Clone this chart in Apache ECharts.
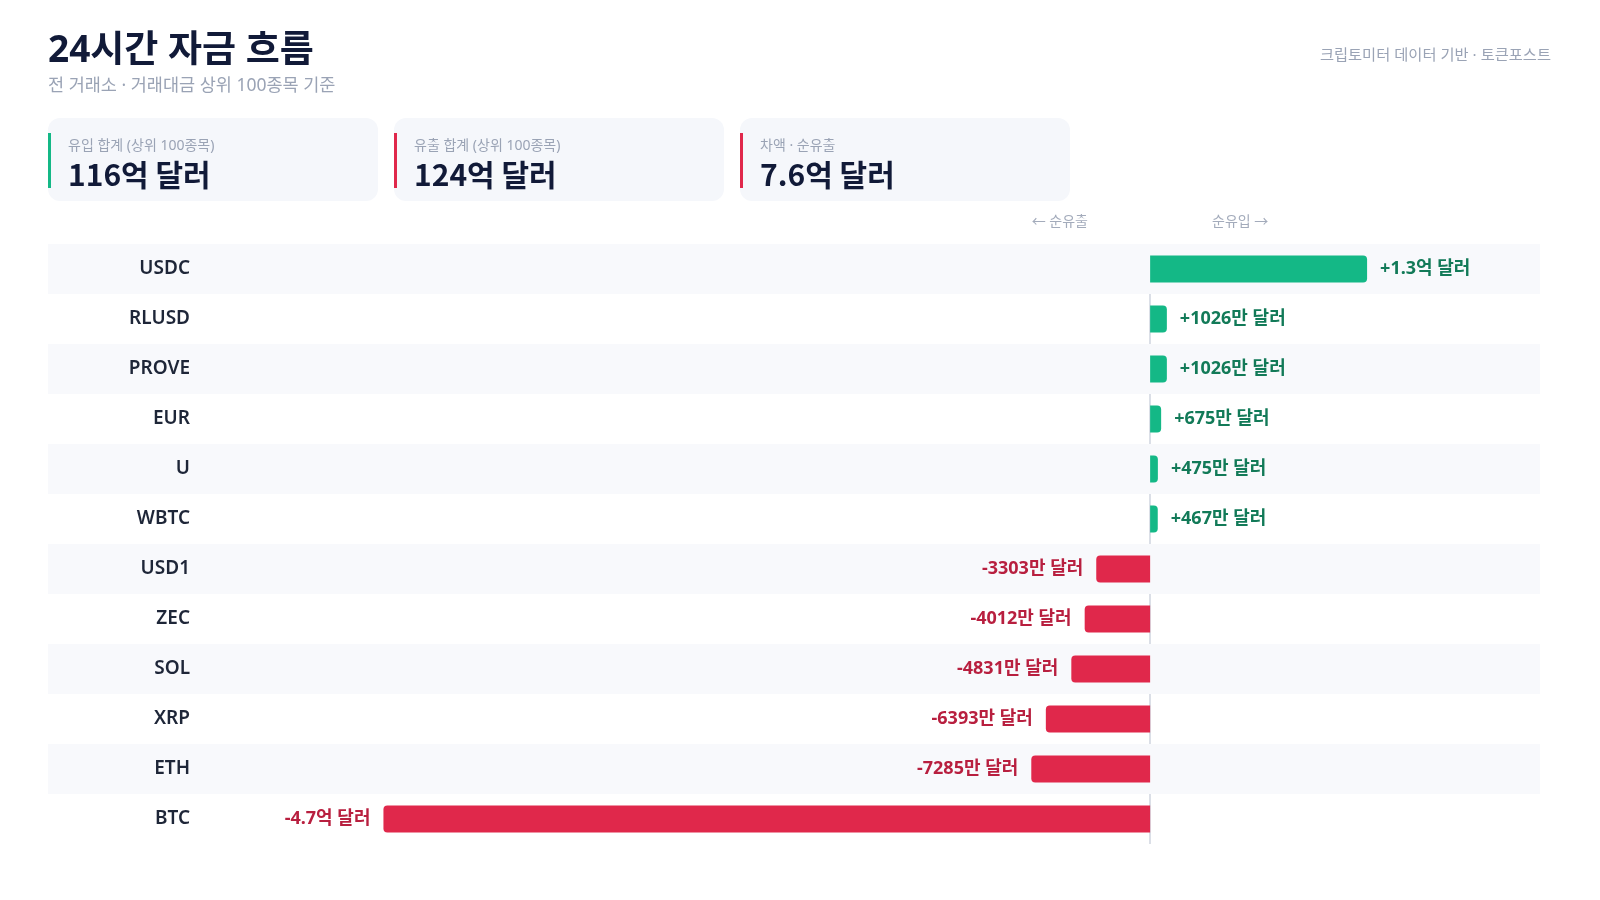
<!DOCTYPE html>
<html>
<head>
<meta charset="utf-8">
<script src="https://cdn.jsdelivr.net/npm/echarts@6/dist/echarts.min.js"></script>
<style>
  body { margin: 0; background: #fff; font-family: "Noto Sans", "Noto Sans CJK KR", sans-serif; }
  #wrap { position: relative; width: 1600px; height: 900px; overflow: hidden; }
  #chart { position: absolute; left: 0; top: 0; width: 1600px; height: 900px; }
  .title { position: absolute; left: 48px; top: 22px; font-size: 37px; line-height: 52px; font-weight: 700; color: #111a38; }
  .sub { position: absolute; left: 48px; top: 72px; font-size: 17.5px; line-height: 24px; color: #9aa3b5; }
  .note { position: absolute; right: 49px; top: 43px; font-size: 15.3px; line-height: 22px; color: #9aa3b5; }
  .card { position: absolute; top: 118px; width: 330px; height: 83px; background: #f5f7fb; border-radius: 12px; }
  .card .bar { position: absolute; left: 0; top: 15px; width: 3px; height: 55px; }
  .card .lab { position: absolute; left: 20px; top: 17px; font-size: 14px; line-height: 20px; color: #9aa3b5; }
  .card .val { position: absolute; left: 20px; top: 34px; font-family: "Noto Sans CJK KR", sans-serif; font-size: 30px; line-height: 42px; font-weight: 700; color: #111a38; }
  .dir { position: absolute; top: 211px; font-size: 14px; line-height: 20px; color: #a3abbb; z-index: 2; }
</style>
</head>
<body>
<div id="wrap">
  <div id="chart"></div>
  <div class="title">24시간 자금 흐름</div>
  <div class="sub">전 거래소 · 거래대금 상위 100종목 기준</div>
  <div class="note">크립토미터 데이터 기반 · 토큰포스트</div>
  <div id="cards"></div>
  <div class="dir" style="right:512px">← 순유출</div>
  <div class="dir" style="left:1212px">순유입 →</div>
</div>
<script>
// 단위: 만 달러
var coins = ['USDC', 'RLUSD', 'PROVE', 'EUR', 'U', 'WBTC', 'USD1', 'ZEC', 'SOL', 'XRP', 'ETH', 'BTC'];
var netFlow = [13300, 1026, 1026, 675, 475, 467, -3303, -4012, -4831, -6393, -7285, -47000];

var cardLabels = ['유입 합계 (상위 100종목)', '유출 합계 (상위 100종목)', '차액 · 순유출'];
var cardValues = ['116억 달러', '124억 달러', '7.6억 달러'];
var cardColors = ['#14b886', '#e0284b', '#e0284b'];

var GREEN = '#14b886', RED = '#e0284b';

function fmtMoney(v) {
  var sign = v > 0 ? '+' : '-';
  var a = Math.abs(v);
  if (a >= 10000) {
    return sign + (a / 10000).toFixed(1) + '억 달러';
  }
  return sign + a + '만 달러';
}

var cardsEl = document.getElementById('cards');
cardLabels.forEach(function (lab, i) {
  var d = document.createElement('div');
  d.className = 'card';
  d.style.left = (48 + i * 346) + 'px';
  d.innerHTML = '<div class="bar" style="background:' + cardColors[i] + '"></div>' +
    '<div class="lab">' + lab + '</div><div class="val">' + cardValues[i] + '</div>';
  cardsEl.appendChild(d);
});

var chart = echarts.init(document.getElementById('chart'));

var barData = netFlow.map(function (v) {
  var pos = v >= 0;
  return {
    value: v,
    itemStyle: {
      color: pos ? GREEN : RED,
      borderRadius: pos ? [0, 4, 4, 0] : [4, 0, 0, 4]
    },
    label: {
      position: pos ? 'right' : 'left',
      color: pos ? '#127a58' : '#b81f3f'
    }
  };
});

var option = {
  animation: false,
  textStyle: { fontFamily: '"Noto Sans", "Noto Sans CJK KR", sans-serif' },
  grid: [
    { left: 48, right: 60, top: 244, height: 600 },   // 줄무늬 배경
    { left: 204, right: 60, top: 244, height: 600 }
  ],
  xAxis: [
    { gridIndex: 0, type: 'value', min: 0, max: 1, show: false },
    {
      gridIndex: 1, type: 'value', min: -58000, max: 23900,
      axisLine: { show: false }, axisTick: { show: false },
      axisLabel: { show: false }, splitLine: { show: false }
    }
  ],
  yAxis: [
    {
      gridIndex: 0, type: 'category', data: coins, inverse: true, z: 1,
      axisLine: { show: false }, axisTick: { show: false }, axisLabel: { show: false },
      splitLine: { show: false },
      splitArea: { show: true, areaStyle: { color: ['#f8f9fc', 'rgba(255,255,255,0)'] } }
    },
    {
      gridIndex: 1, type: 'category', data: coins, inverse: true, z: 2,
      axisLine: { show: false, onZero: false }, axisTick: { show: false },
      axisLabel: { color: '#1e2638', fontSize: 19, fontWeight: 600, margin: 14 }
    }
  ],
  series: [
    {
      type: 'line', xAxisIndex: 1, yAxisIndex: 1, data: [], z: 0,
      markLine: {
        silent: true, symbol: 'none', z: 0,
        lineStyle: { color: '#cfd5df', width: 1.5, type: 'solid' },
        label: { show: false },
        data: [{ xAxis: 0 }]
      }
    },
    {
      type: 'bar', xAxisIndex: 1, yAxisIndex: 1, z: 3,
      barWidth: 27,
      data: barData,
      label: {
        show: true, distance: 13, fontSize: 18, fontWeight: 700,
        formatter: function (p) { return fmtMoney(p.value); }
      }
    }
  ]
};

chart.setOption(option);
</script>
</body>
</html>
